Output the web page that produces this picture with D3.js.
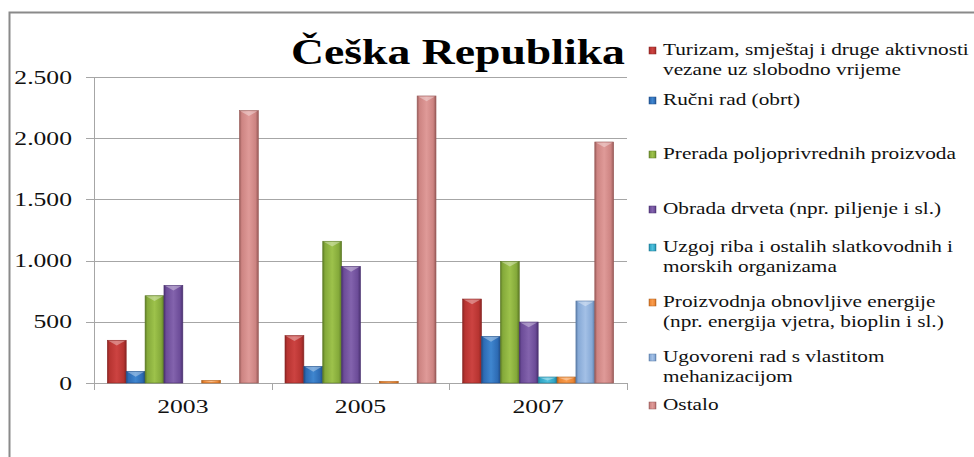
<!DOCTYPE html>
<html><head><meta charset="utf-8">
<script src="https://cdn.jsdelivr.net/npm/d3@7/dist/d3.min.js"></script>
<style>html,body{margin:0;padding:0;background:#fff;overflow:hidden}
svg text{font-family:"Liberation Serif","Times New Roman",serif;}</style>
</head><body><svg id="c" width="974" height="457"></svg>
<script>
// ---- data ----
const years = ["2003", "2005", "2007"];
const seriesNames = [
  ["Turizam, smještaj i druge aktivnosti", "vezane uz slobodno vrijeme"],
  ["Ručni rad (obrt)"],
  ["Prerada poljoprivrednih proizvoda"],
  ["Obrada drveta (npr. piljenje i sl.)"],
  ["Uzgoj riba i ostalih slatkovodnih i", "morskih organizama"],
  ["Proizvodnja obnovljive energije", "(npr. energija vjetra, bioplin i sl.)"],
  ["Ugovoreni rad s vlastitom", "mehanizacijom"],
  ["Ostalo"]
];
const turizam   = [349, 387, 686];
const rucniRad  = [95, 136, 381];
const prerada   = [713, 1158, 994];
const obrada    = [798, 953, 498];
const uzgoj     = [0, 0, 49];
const energija  = [22, 14, 49];
const ugovoreni = [0, 0, 670];
const ostalo    = [2225, 2345, 1969];
const yTicks = [0, 500, 1000, 1500, 2000, 2500];
const yTickLabels = ["0", "500", "1.000", "1.500", "2.000", "2.500"];
const title = "Češka Republika";

const seriesValues = [turizam, rucniRad, prerada, obrada, uzgoj, energija, ugovoreni, ostalo];
// [dark edge, center light, base]
const palette = [
  ["#8a2523", "#cc4341", "#b73431"],
  ["#1f4c86", "#3f86cf", "#2d6bb4"],
  ["#5c7a25", "#9dc24b", "#84a93a"],
  ["#4a3170", "#8363ad", "#6c4c98"],
  ["#1d7892", "#4fc0dc", "#30a6c6"],
  ["#b0601c", "#f99c4c", "#ec8634"],
  ["#5a7ba6", "#a3c0e6", "#86a9d6"],
  ["#985a58", "#df9a98", "#cd8482"]
];

// ---- layout ----
const W = 974, H = 457;
const plot = {left: 94, right: 627, top: 77, bottom: 383};
const SX = 1.35;
const LSX = 1.33;
const legendX = 649, legendTextX = 663;
const legendY = [50, 100, 154, 209, 247, 302, 357, 405];
const legendLineH = 19.5;
const FONT = '"Liberation Serif","Times New Roman",serif';

const svg = d3.select("#c");
const defs = svg.append("defs");
palette.forEach((c, i) => {
  const g = defs.append("linearGradient").attr("id", "g" + i).attr("x1", "0").attr("x2", "1").attr("y1", "0").attr("y2", "0");
  [[0, c[0]], [0.12, c[2]], [0.5, c[1]], [0.85, c[2]], [1, c[0]]].forEach(s =>
    g.append("stop").attr("offset", s[0]).attr("stop-color", s[1]));
});

// frame
svg.append("path").attr("d", `M9.5,${H} V12.5 H${W}`).attr("fill", "none").attr("stroke", "#8a8a8a").attr("stroke-width", 2);

const x0 = d3.scaleBand().domain(years).range([plot.left, plot.right]).paddingInner(0.15).paddingOuter(0.075);
const x1 = d3.scaleBand().domain(d3.range(seriesValues.length)).range([0, x0.bandwidth()]);
const y = d3.scaleLinear().domain([0, 2500]).range([plot.bottom, plot.top]);

// gridlines
svg.append("g").selectAll("line").data(yTicks).join("line")
  .attr("x1", plot.left - 8).attr("x2", plot.right)
  .attr("y1", d => Math.round(y(d)) + 0.5).attr("y2", d => Math.round(y(d)) + 0.5)
  .attr("stroke", "#a6a6a6").attr("stroke-width", 1);

// y axis line
svg.append("line").attr("x1", plot.left + 0.5).attr("x2", plot.left + 0.5)
  .attr("y1", plot.top).attr("y2", plot.bottom + 7).attr("stroke", "#a6a6a6");

// x category ticks
const step = x0.step();
const boundaries = years.map((d, i) => x0(years[0]) - x0.paddingOuter() * step + i * step).concat([plot.right]);
svg.append("g").selectAll("line").data(boundaries).join("line")
  .attr("x1", d => Math.round(d) + 0.5).attr("x2", d => Math.round(d) + 0.5)
  .attr("y1", plot.bottom).attr("y2", plot.bottom + 7).attr("stroke", "#a6a6a6");

// y labels
svg.append("g").selectAll("text").data(yTicks).join("text")
  .attr("transform", d => `translate(72,${y(d) + 6.5}) scale(${SX},1)`)
  .attr("text-anchor", "end")
  .style("font-family", FONT).attr("font-size", 19).attr("fill", "#111")
  .text((d, i) => yTickLabels[i]);

// x labels
svg.append("g").selectAll("text").data(years).join("text")
  .attr("transform", d => `translate(${x0(d) + x0.bandwidth() / 2},413) scale(${SX},1)`)
  .attr("text-anchor", "middle")
  .style("font-family", FONT).attr("font-size", 19).attr("fill", "#111")
  .text(d => d);

// bars
const groups = svg.append("g").selectAll("g").data(years).join("g")
  .attr("transform", d => `translate(${x0(d)},0)`);
groups.each(function (yr, yi) {
  const g = d3.select(this);
  seriesValues.forEach((vals, si) => {
    const v = vals[yi];
    if (!v) return;
    const bx = x1(si), bw = x1.bandwidth(), top = y(v), h = plot.bottom - top;
    g.append("rect").attr("x", bx).attr("y", top).attr("width", bw).attr("height", h)
      .attr("fill", `url(#g${si})`).attr("stroke", palette[si][0]).attr("stroke-width", 0.6);
    const th = Math.min(bw * 0.28, h * 0.6);
    g.append("path")
      .attr("d", `M${bx + 1},${top + 0.5} L${bx + bw - 1},${top + 0.5} L${bx + bw / 2},${top + th} Z`)
      .attr("fill", "#ffffff").attr("opacity", 0.35);
  });
});

// title
svg.append("text")
  .attr("transform", `translate(291,64) scale(1.27,1)`)
  .style("font-family", FONT).attr("font-weight", "bold")
  .attr("font-size", 36).attr("fill", "#000").text(title);

// legend
const leg = svg.append("g");
seriesNames.forEach((lines, i) => {
  const cy = legendY[i];
  leg.append("rect").attr("x", legendX).attr("y", cy - 3).attr("width", 7).attr("height", 7)
    .attr("fill", `url(#g${i})`).attr("stroke", palette[i][0]).attr("stroke-width", 0.5);
  lines.forEach((t, li) => {
    leg.append("text")
      .attr("transform", `translate(${legendTextX},${cy + 5 + li * legendLineH}) scale(${LSX},1)`)
      .style("font-family", FONT).attr("font-size", 16).attr("fill", "#111")
      .text(t);
  });
});
</script>
</body></html>
